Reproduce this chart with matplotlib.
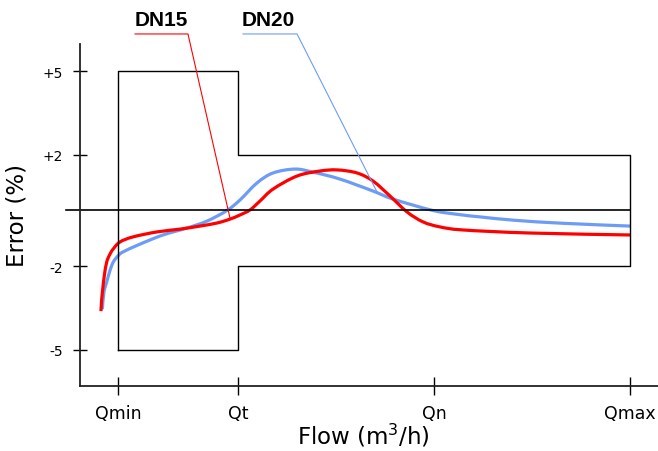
import matplotlib
matplotlib.use('Agg')
import matplotlib.pyplot as plt
import numpy as np
from matplotlib.path import Path
from matplotlib.patches import PathPatch

# ---- Schematic axis positions (Qmin..Qmax) ----------------------------------
flow_labels = ['Qmin', 'Qt', 'Qn', 'Qmax']
flow_pos = [1.0, 2.0, 3.633, 5.267]

err_ticks = [5, 2, -2, -5]
err_labels = ['+5', '+2', '-2', '-5']

# tolerance envelope (max permissible error)
tol_x = [1.0, 1.0, 2.0, 2.0, 5.267, 5.267, 2.0, 2.0, 1.0]
tol_y = [-5, 5, 5, 2, 2, -2, -2, -5, -5]

# ---- Error curves -----------------------------------------------------------
dn15_x = [0.858, 0.864, 0.873, 0.886, 0.906, 0.933, 0.961, 1.017, 1.125, 1.325,
          1.517, 1.683, 1.825, 1.933, 2.017, 2.100, 2.183, 2.292, 2.492, 2.683,
          2.825, 2.992, 3.125, 3.267, 3.408, 3.542, 3.683, 3.875, 4.433, 5.267]
dn15_y = [-3.62, -3.20, -2.82, -2.34, -1.85, -1.57, -1.38, -1.13, -0.95, -0.77,
          -0.67, -0.56, -0.45, -0.31, -0.16, 0.02, 0.34, 0.77, 1.24, 1.42,
          1.46, 1.35, 1.06, 0.52, -0.05, -0.41, -0.59, -0.70, -0.81, -0.88]

dn20_x = [0.869, 0.883, 0.906, 0.933, 0.961, 1.003, 1.042, 1.183, 1.375, 1.575,
          1.742, 1.908, 2.017, 2.158, 2.292, 2.475, 2.625, 2.850, 3.125, 3.292,
          3.625, 3.850, 4.017, 4.300, 4.708, 5.267]
dn20_y = [-3.55, -2.93, -2.57, -2.16, -1.85, -1.62, -1.49, -1.21, -0.88, -0.63,
          -0.38, 0.00, 0.38, 0.99, 1.35, 1.49, 1.38, 1.13, 0.70, 0.41,
          0.00, -0.15, -0.23, -0.35, -0.46, -0.56]

# leader lines from the labels to the curves
dn15_lead_x = [1.142, 1.583, 1.933]
dn15_lead_y = [6.35, 6.35, -0.27]
dn20_lead_x = [2.042, 2.492, 3.158]
dn20_lead_y = [6.35, 6.35, 0.67]

red = '#ff0000'
blue = '#6c9cf6'


def smooth_path(xs, ys):
    # catmull-rom through the read points, drawn as cubic bezier segments
    p = np.column_stack([xs, ys])
    verts = [p[0]]
    codes = [Path.MOVETO]
    for i in range(len(p) - 1):
        p0 = p[i - 1] if i > 0 else p[i]
        p3 = p[i + 2] if i + 2 < len(p) else p[i + 1]
        c1 = p[i] + (p[i + 1] - p0) / 6
        c2 = p[i + 1] - (p3 - p[i]) / 6
        verts += [c1, c2, p[i + 1]]
        codes += [Path.CURVE4] * 3
    return Path(verts, codes)


fig = plt.figure(figsize=(6.58, 4.52), dpi=100)
ax = fig.add_axes([80 / 658, 1 - 386.7 / 452, 578 / 658, 341.7 / 452])
ax.set_xlim(0.6833, 5.5)
ax.set_ylim(-6.302, 5.989)

for s in ['top', 'right']:
    ax.spines[s].set_visible(False)
for s in ['left', 'bottom']:
    ax.spines[s].set_linewidth(1.3)
    ax.spines[s].set_color('#222222')

# tolerance box + zero line
ax.plot(tol_x, tol_y, color='black', lw=1.0)
ax.plot([0.5667, 5.267], [0, 0], color='black', lw=1.2, clip_on=False)

# curves
ax.add_patch(PathPatch(smooth_path(dn20_x, dn20_y), fc='none', ec=blue, lw=2.3,
                       capstyle='butt'))
ax.add_patch(PathPatch(smooth_path(dn15_x, dn15_y), fc='none', ec=red, lw=2.3,
                       capstyle='butt'))

ax.plot(dn15_lead_x, dn15_lead_y, color=red, lw=0.8, clip_on=False)
ax.plot(dn20_lead_x, dn20_lead_y, color=blue, lw=0.8, clip_on=False)

ax.text(1.358, 6.86, 'DN15', ha='center', va='center', fontsize=15,
        fontweight='bold', family='Liberation Sans')
ax.text(2.25, 6.86, 'DN20', ha='center', va='center', fontsize=15,
        fontweight='bold', family='Liberation Sans')

# ticks
ax.set_xticks(flow_pos)
ax.set_xticklabels(flow_labels, fontsize=12.5)
ax.set_yticks(err_ticks)
ax.set_yticklabels(err_labels, fontsize=10)
ax.tick_params(axis='x', direction='inout', length=13, width=1.0, pad=6.5)
ax.tick_params(axis='y', direction='inout', length=10, width=1.0, pad=7)

fig.text(23.3 / 658, 1 - 215.5 / 452, 'Error (%)', rotation=90, fontsize=16.5,
         ha='center', va='baseline', rotation_mode='anchor')
fig.text(363 / 658, 1 - 444.3 / 452, 'Flow (m$^3$/h)', fontsize=16.5,
         ha='center', va='baseline')

fig.savefig('out.png', dpi=100)
